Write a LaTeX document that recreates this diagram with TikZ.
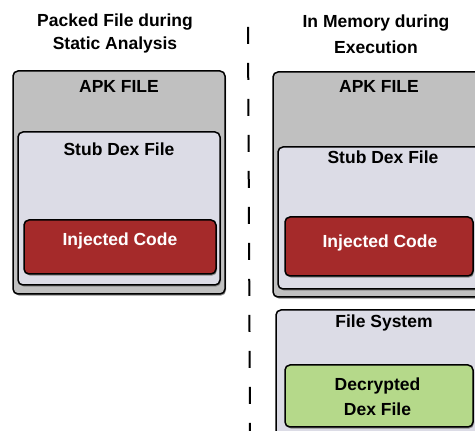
\documentclass[tikz,border=0pt]{standalone}
\usepackage{fontspec}
\setmainfont{Liberation Sans}
\usetikzlibrary{shadows}
\definecolor{apkgray}{HTML}{C0C0C0}
\definecolor{stubcol}{HTML}{DCDCE6}
\definecolor{injred}{HTML}{A52A2A}
\definecolor{decgreen}{HTML}{B5D98A}
\tikzset{
  box/.style={draw=black, line width=1.5pt, rounded corners=5pt, inner sep=0pt,
    drop shadow={shadow xshift=1pt, shadow yshift=-1.6pt, fill=black!45, opacity=1}},
  lbl/.style={font=\fontsize{17.5}{21}\selectfont\bfseries, anchor=base, inner sep=0pt},
}
\begin{document}
\begin{tikzpicture}[x=1pt,y=1pt]
\useasboundingbox (0,0) rectangle (475,431);
\clip (0,0) rectangle (475,431);
% titles
\node[lbl] (t1a) at (115,404) {Packed File during};
\node[lbl] (t1b) at (115,381) {Static Analysis};
\node[lbl] (t2a) at (376,403) {In Memory during};
\node[lbl] (t2b) at (376,377) {Execution};
% divider
\coordinate (dtop) at (248,404);
\coordinate (dbot) at (250,-2);
\draw[line width=2pt, dash pattern=on 17pt off 19pt] (dtop) -- (dbot);
% left side
\node[box, fill=apkgray, minimum width=212pt, minimum height=223pt] (lapk) at (119,248.5) {};
\node[box, fill=stubcol, minimum width=202pt, minimum height=153pt] (lstub) at (119,222.5) {};
\node[box, fill=injred, minimum width=192pt, minimum height=54pt] (lred) at (120,184) {};
\node[lbl] (lapkt) at (119,338) {APK FILE};
\node[lbl] (lstubt) at (119,275) {Stub Dex File};
\node[lbl, text=white] (lredt) at (120,185) {Injected Code};
% right side
\node[box, fill=apkgray, minimum width=230pt, minimum height=225pt] (rapk) at (388,246.5) {};
\node[box, fill=stubcol, minimum width=220pt, minimum height=142pt] (rstub) at (388,213) {};
\node[box, fill=injred, minimum width=188pt, minimum height=59pt] (rred) at (379,184.5) {};
\node[lbl] (rapkt) at (379,338) {APK FILE};
\node[lbl] (rstubt) at (383,267) {Stub Dex File};
\node[lbl, text=white] (rredt) at (380,183) {Injected Code};
\node[box, fill=stubcol, minimum width=230pt, minimum height=135pt] (fs) at (391,53.5) {};
\node[box, fill=decgreen, minimum width=188pt, minimum height=62pt] (dec) at (379,35) {};
\node[lbl] (fst) at (384,103) {File System};
\node[lbl] (dect1) at (377.5,40) {Decrypted};
\node[lbl] (dect2) at (377.5,15) {Dex File};
\end{tikzpicture}
\end{document}
